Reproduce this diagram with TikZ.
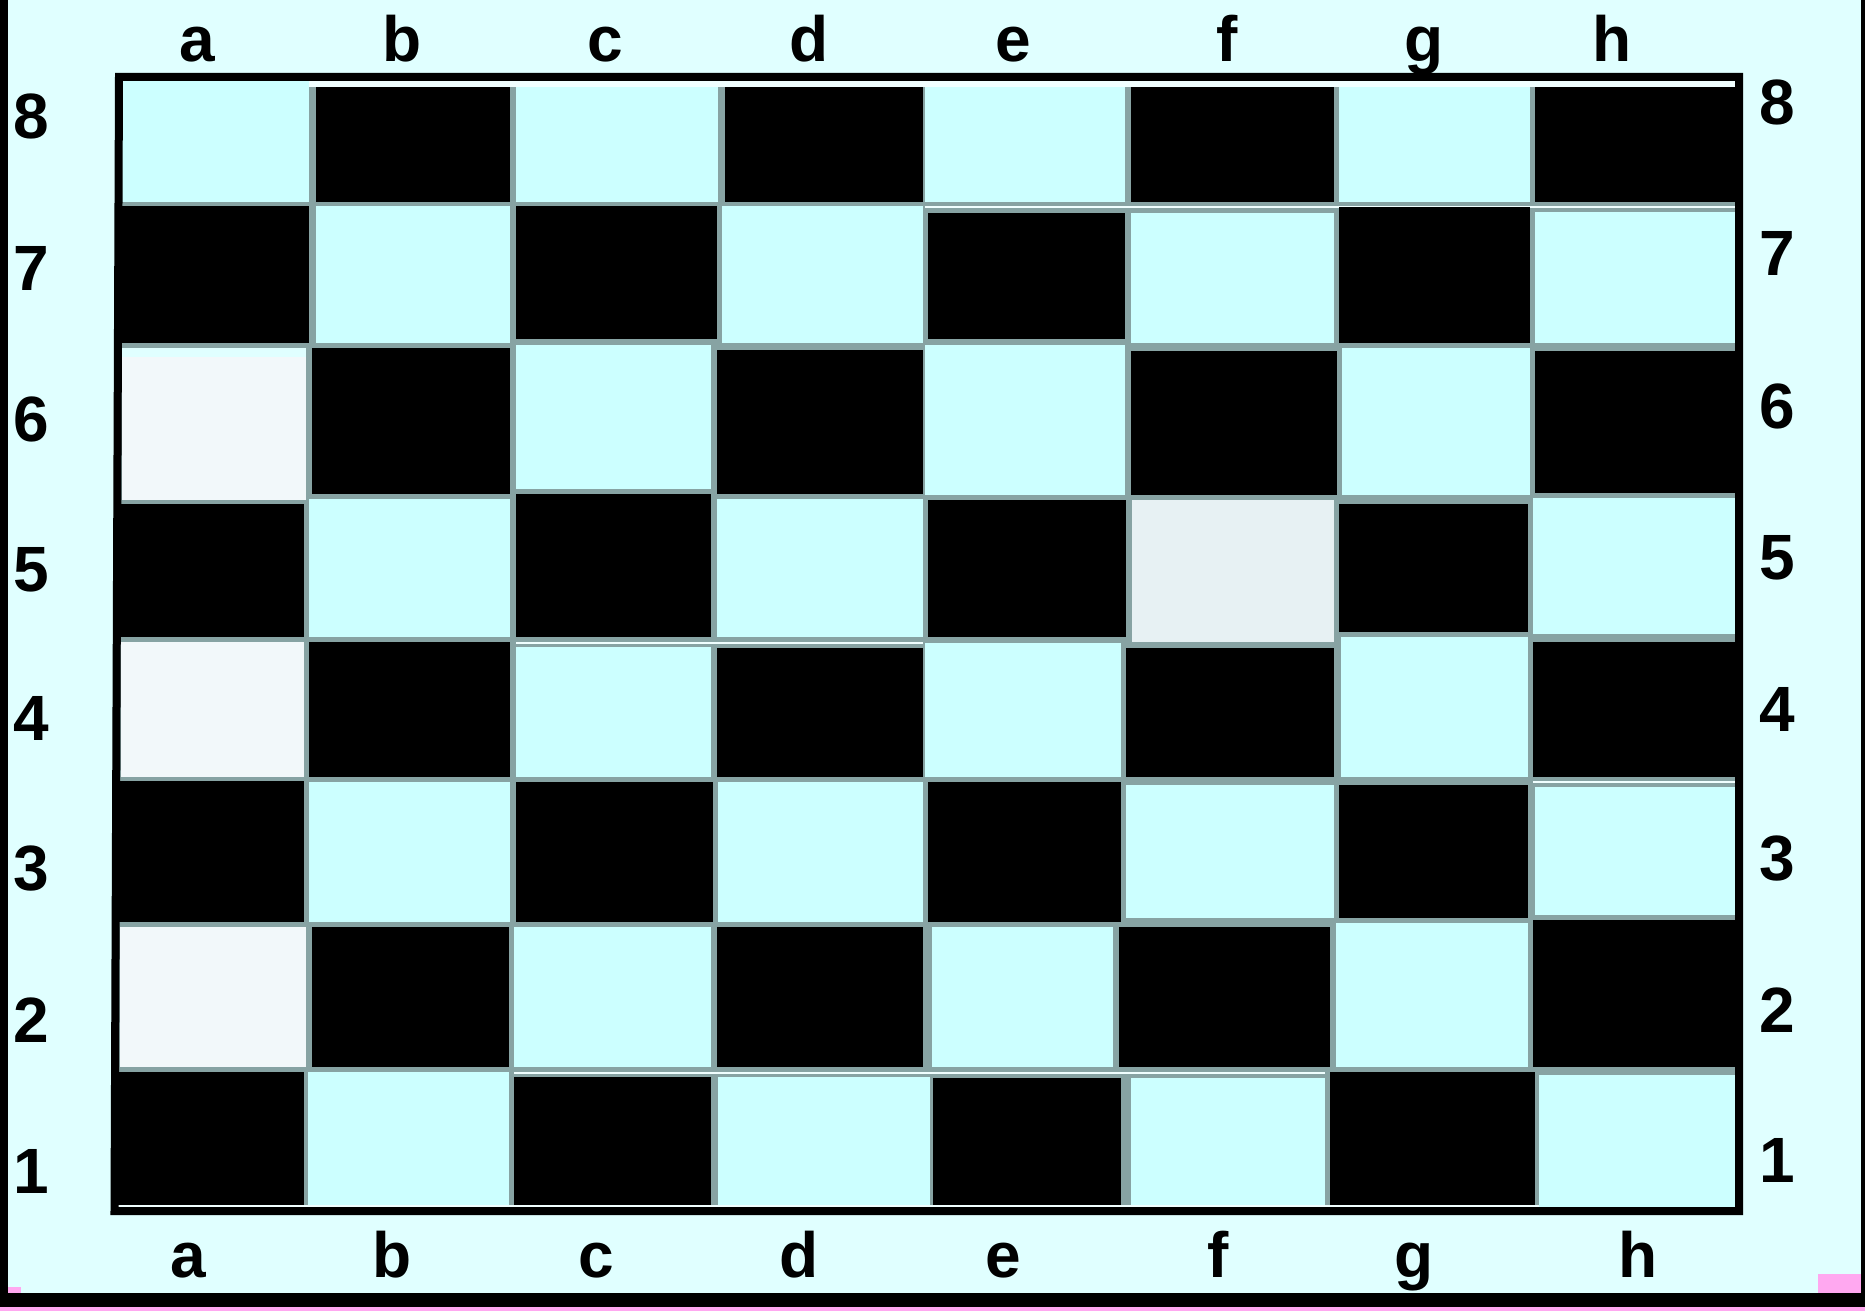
\documentclass[tikz,border=0pt]{standalone}
\usepackage{fontspec}
\setmainfont{Liberation Sans}
\definecolor{bgc}{HTML}{E0FFFF}
\definecolor{cy}{HTML}{CCFFFF}
\definecolor{grl}{HTML}{87A3A3}
\definecolor{wh}{HTML}{F2F8FA}
\definecolor{whf}{HTML}{E7F1F3}
\definecolor{band}{HTML}{F0FFFF}
\definecolor{pk}{HTML}{FFA8F0}
\newcommand\sqr[5]{\fill[#5] (#1,#2) rectangle (#3,#4);}
\begin{document}
\begin{tikzpicture}[x=0.5pt,y=-0.5pt,
  lbl/.style={inner sep=0pt,font=\fontsize{32}{38}\selectfont\bfseries}]
\useasboundingbox (0,0) rectangle (1865,1311);
% background and frame
\fill[bgc] (0,0) rectangle (1865,1311);
\fill[black] (0,0) rectangle (8,1307);
\fill[black] (1861,0) rectangle (1865,1307);
\fill[black] (0,1293) rectangle (1865,1307);
\fill[pk] (0,1307) rectangle (1865,1311);
\fill[pk] (8,1287) rectangle (21,1293);
\fill[pk] (1818,1274) rectangle (1861,1293);
% board base (grid lines)
\fill[grl] (120,79) -- (1739,79) -- (1739,1209) -- (116,1209) -- cycle;
\fill[band] (122,81) rectangle (1735,87);
\fill[band] (118,1205) rectangle (1735,1208);
% row 8
\sqr{122}{81}{309}{202}{cy}
\sqr{316}{87}{510}{202}{black}
\sqr{516}{87}{718}{202}{cy}
\sqr{725}{87}{923}{202}{black}
\sqr{925}{87}{1125}{202}{cy}
\sqr{1131}{87}{1334}{202}{black}
\sqr{1339}{87}{1530}{202}{cy}
\sqr{1535}{87}{1735}{202}{black}
\fill[band] (925,206.5) rectangle (1735,208);
% row 7
\sqr{118}{206}{309}{343}{black}
\sqr{316}{206}{510}{343}{cy}
\sqr{516}{206}{717}{339}{black}
\sqr{722}{206}{923}{343}{cy}
\sqr{928}{213}{1125}{339}{black}
\sqr{1131}{213}{1334}{343}{cy}
\sqr{1339}{207}{1530}{343}{black}
\sqr{1535}{212}{1735}{343}{cy}
% row 6
\sqr{122}{348}{306}{500}{wh}
\sqr{122}{348}{306}{357}{bgc}
\sqr{312}{348}{510}{494}{black}
\sqr{516}{345}{711}{489}{cy}
\sqr{717}{350}{923}{494}{black}
\sqr{925}{345}{1125}{495}{cy}
\sqr{1131}{351}{1337}{495}{black}
\sqr{1342}{348}{1530}{495}{cy}
\sqr{1535}{351}{1735}{493}{black}
% row 5
\sqr{117}{504}{304}{637}{black}
\sqr{309}{499}{510}{637}{cy}
\sqr{516}{494}{711}{637}{black}
\sqr{717}{499}{923}{637}{cy}
\sqr{928}{500}{1126}{637}{black}
\sqr{1132}{500}{1334}{642}{whf}
\sqr{1339}{504}{1528}{632}{black}
\sqr{1533}{498}{1735}{634}{cy}
\fill[band] (516,642) rectangle (923,643.5);
% row 4
\sqr{121}{642}{304}{777}{wh}
\sqr{309}{642}{510}{777}{black}
\sqr{516}{647}{711}{777}{cy}
\sqr{717}{648}{923}{777}{black}
\sqr{925}{643}{1121}{777}{cy}
\sqr{1126}{648}{1334}{777}{black}
\sqr{1341}{637}{1528}{777}{cy}
\sqr{1533}{642}{1735}{777}{black}
\fill[band] (1533,781) rectangle (1735,782.5);
% row 3
\sqr{117}{781}{304}{922}{black}
\sqr{309}{782}{510}{922}{cy}
\sqr{516}{782}{713}{922}{black}
\sqr{718}{782}{923}{922}{cy}
\sqr{928}{782}{1121}{922}{black}
\sqr{1126}{785}{1334}{918}{cy}
\sqr{1339}{785}{1528}{918}{black}
\sqr{1535}{787}{1735}{915}{cy}
% row 2
\sqr{120}{927}{306}{1067}{wh}
\sqr{312}{927}{509}{1067}{black}
\sqr{514}{927}{711}{1067}{cy}
\sqr{717}{927}{923}{1067}{black}
\sqr{932}{927}{1113}{1067}{cy}
\sqr{1119}{927}{1330}{1067}{black}
\sqr{1336}{923}{1528}{1067}{cy}
\sqr{1533}{920}{1735}{1067}{black}
\fill[band] (514,1072) rectangle (1325,1073.5);
% row 1
\sqr{116}{1072}{304}{1205}{black}
\sqr{308}{1072}{509}{1205}{cy}
\sqr{514}{1077}{711}{1205}{black}
\sqr{718}{1077}{930}{1205}{cy}
\sqr{933}{1078}{1121}{1205}{black}
\sqr{1131}{1078}{1325}{1205}{cy}
\sqr{1330}{1072}{1535}{1205}{black}
\sqr{1539}{1075}{1735}{1207}{cy}
% outer board border
\draw[line width=4pt,line join=miter] (119,77) -- (1739,77) -- (1739,1211) -- (114.5,1211) -- cycle;
% file letters
\foreach \l/\x in {a/197,b/402,c/605,d/809,e/1013,f/1227,g/1424,h/1612}
  \node[lbl,anchor=base] (t\l) at (\x,62) {\l};
\foreach \l/\x in {a/188,b/392,c/596,d/799,e/1003,f/1218,g/1414,h/1638}
  \node[lbl,anchor=base] (b\l) at (\x,1277) {\l};
% rank numbers
\foreach \n/\y in {8/116,7/268,6/419,5/570,4/718,3/869,2/1020,1/1171}
  \node[lbl] (l\n) at (31,\y) {\n};
\foreach \n/\y in {8/102,7/253,6/406,5/558,4/709,3/859,2/1010,1/1160}
  \node[lbl] (r\n) at (1777,\y) {\n};
\end{tikzpicture}
\end{document}
